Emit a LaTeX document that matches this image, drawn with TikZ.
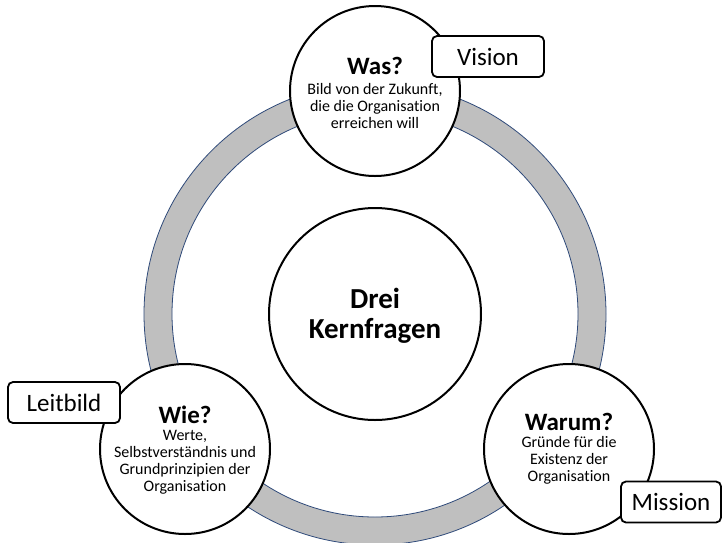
\documentclass[tikz,border=0pt]{standalone}
\usepackage{fontspec}
\setmainfont{Carlito}[Ligatures={TeX,NoCommon}]
\definecolor{ringfill}{HTML}{BFBFBF}
\definecolor{ringline}{HTML}{2F4A7A}
\newcommand{\fragekopf}[1]{{\fontsize{25}{26}\selectfont\bfseries #1}}
\begin{document}
\begin{tikzpicture}[x=1pt,y=-1pt,
  kreis/.style={circle,draw=black,line width=2pt,fill=white,minimum size=#1,inner sep=0pt},
  kreis/.default=170pt,
  schild/.style={draw=black,line width=1.8pt,fill=white,rounded corners=5pt,
    minimum width=112pt,minimum height=41pt,inner sep=0pt,
    font=\fontsize{25}{28}\selectfont},
  inhalt/.style={align=center,inner sep=0pt,font=\fontsize{16}{17}\selectfont}]
\useasboundingbox (0,0) rectangle (723,542);
\fill[white] (0,0) rectangle (723,542);

% ring behind the circles
\coordinate (mitte) at (375,314);
\path[fill=ringfill,draw=ringline,line width=0.8pt,even odd rule]
  (mitte) circle (231pt) (mitte) circle (203pt);

% centre circle
\node[kreis=212pt] (kern) at (mitte) {};
\node[align=center,inner sep=0pt,font=\fontsize{29}{30}\selectfont\bfseries] (kerntext) at (375,315.5)
  {Drei\\Kernfragen};

% the three question circles
\node[kreis] (was) at (375,91) {};
\node[inhalt] (wastext) at (375,93)
  {\fragekopf{Was?}\\[3pt]Bild von der Zukunft,\\die die Organisation\\erreichen will};

\node[kreis] (wie) at (185,449) {};
\node[inhalt] (wietext) at (185,450)
  {\fragekopf{Wie?}\\Werte,\\Selbstverständnis und\\Grundprinzipien der\\Organisation};

\node[kreis] (warum) at (569,449) {};
\node[inhalt] (warumtext) at (569,449)
  {\fragekopf{Warum?}\\Gründe für die\\Existenz der\\Organisation};

% tags
\node[schild] (vision) at (488,56.5) {Vision};
\node[schild] (leitbild) at (64,402.5) {Leitbild};
\node[schild,minimum width=100pt] (mission) at (671,502) {Mission};
\end{tikzpicture}
\end{document}
